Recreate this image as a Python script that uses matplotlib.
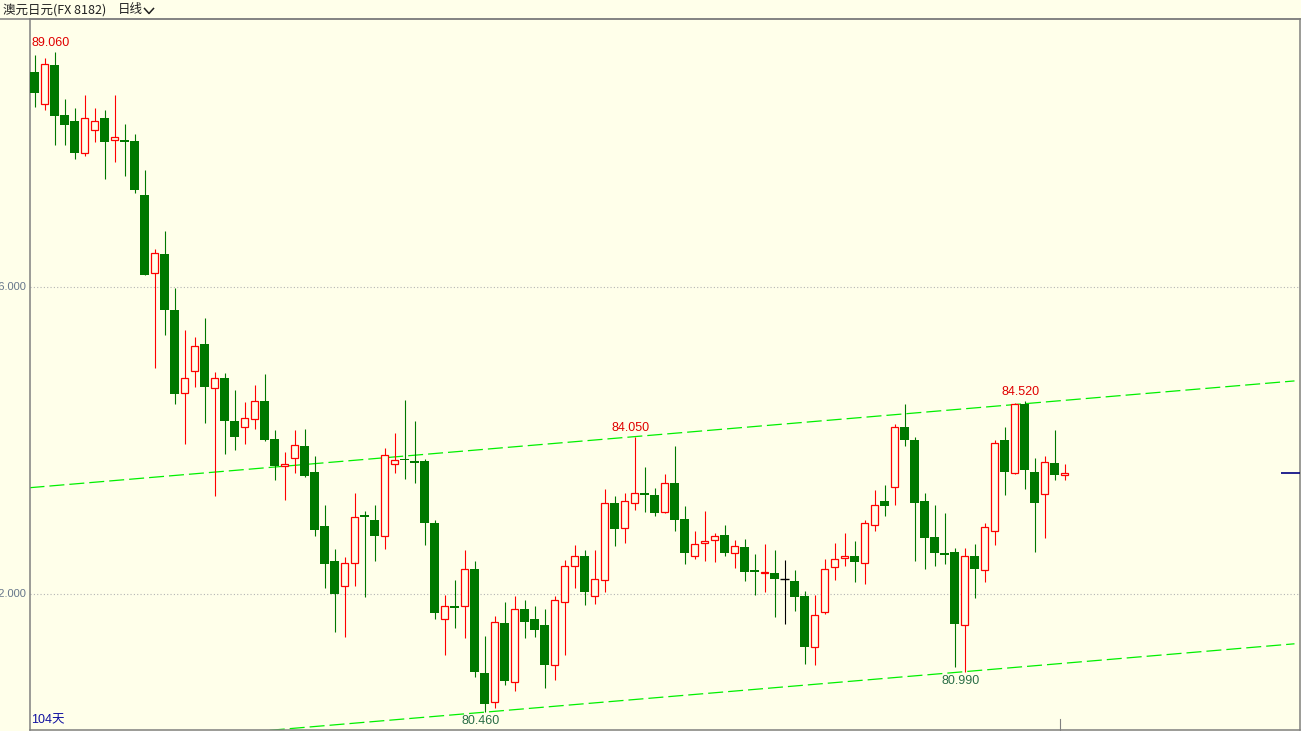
import numpy as np
import matplotlib
matplotlib.use('Agg')
import matplotlib.pyplot as plt
import matplotlib.transforms as mtransforms
from matplotlib.lines import Line2D

# daily AUD/JPY candles, oldest first
opens = [88.80, 88.39, 88.89, 88.24, 88.16, 87.74, 88.05, 88.20, 87.92, 87.92,
         87.90, 87.20, 86.18, 86.43, 85.70, 84.62, 84.90, 85.26, 84.69, 84.81,
         84.25, 84.17, 84.28, 84.51, 84.02, 83.67, 83.77, 83.93, 83.59, 82.89,
         82.43, 82.10, 82.40, 83.03, 82.96, 82.75, 83.70, 83.76, 83.73, 83.73,
         82.93, 81.67, 81.84, 81.84, 82.33, 80.97, 80.59, 81.62, 80.85, 81.80,
         81.67, 81.60, 81.08, 81.89, 82.36, 82.50, 81.97, 82.18, 83.19, 82.86,
         83.19, 83.32, 83.29, 83.07, 83.45, 82.98, 82.50, 82.66, 82.70, 82.77,
         82.53, 82.61, 82.31, 82.27, 82.27, 82.20, 82.17, 81.97, 81.31, 81.76,
         82.35, 82.47, 82.50, 82.41, 82.90, 83.21, 83.39, 84.18, 84.01, 83.21,
         82.74, 82.53, 82.55, 81.60, 82.50, 82.31, 82.82, 84.01, 83.57, 84.48,
         83.59, 83.30, 83.71, 83.55]
highs = [89.02, 88.98, 89.06, 88.45, 88.33, 88.50, 88.33, 88.31, 88.50, 88.12,
         87.99, 87.52, 86.49, 86.73, 85.99, 85.44, 85.35, 85.60, 84.89, 84.88,
         84.66, 84.50, 84.72, 84.87, 84.14, 83.85, 84.14, 84.15, 83.80, 83.16,
         82.59, 82.48, 83.32, 83.08, 83.16, 83.90, 84.10, 84.53, 84.25, 83.76,
         82.96, 81.99, 82.18, 82.57, 82.43, 81.45, 81.71, 81.89, 81.97, 81.92,
         81.84, 81.80, 81.97, 82.44, 82.64, 82.57, 82.57, 83.37, 83.28, 83.32,
         84.05, 83.65, 83.38, 83.56, 83.93, 83.15, 82.82, 83.08, 82.79, 82.90,
         82.70, 82.72, 82.52, 82.65, 82.57, 82.44, 82.31, 82.04, 81.99, 82.46,
         82.66, 82.79, 82.69, 82.96, 83.36, 83.42, 84.21, 84.48, 84.05, 83.32,
         83.16, 83.06, 82.60, 82.60, 82.65, 82.93, 84.00, 84.18, 84.49, 84.52,
         83.77, 83.80, 84.14, 83.69]
lows = [88.34, 88.31, 87.85, 87.85, 87.67, 87.71, 87.89, 87.41, 87.63, 87.45,
        87.23, 86.15, 84.95, 85.38, 84.47, 83.96, 84.70, 84.23, 83.28, 83.83,
        83.87, 83.96, 84.15, 83.99, 83.48, 83.23, 83.57, 83.53, 82.75, 82.08,
        81.50, 81.44, 82.11, 81.96, 82.43, 82.58, 83.58, 83.50, 83.44, 82.64,
        81.68, 81.21, 81.56, 81.43, 80.92, 80.46, 80.52, 80.81, 80.73, 81.43,
        81.44, 80.78, 80.88, 81.21, 82.08, 81.86, 81.87, 82.02, 82.62, 82.66,
        83.09, 83.07, 83.01, 83.05, 82.82, 82.39, 82.46, 82.43, 82.42, 82.49,
        82.34, 82.17, 81.99, 82.03, 81.70, 81.61, 81.78, 81.09, 81.08, 81.74,
        82.18, 82.37, 82.15, 82.13, 82.82, 83.01, 83.16, 83.93, 82.43, 82.33,
        82.37, 82.39, 81.05, 80.99, 81.95, 82.16, 82.64, 83.29, 83.56, 83.37,
        82.55, 82.73, 83.48, 83.49]
closes = [88.53, 88.91, 88.23, 88.11, 87.74, 88.20, 88.16, 87.89, 87.96, 87.89,
          87.27, 86.16, 86.44, 85.70, 84.61, 84.82, 85.23, 84.70, 84.82, 84.25,
          84.05, 84.29, 84.51, 84.00, 83.67, 83.70, 83.94, 83.54, 82.84, 82.39,
          82.00, 82.40, 83.00, 83.00, 82.75, 83.81, 83.75, 83.74, 83.71, 82.92,
          81.75, 81.84, 81.82, 82.33, 80.98, 80.57, 81.64, 80.86, 81.80, 81.64,
          81.53, 81.08, 81.92, 82.36, 82.50, 82.02, 82.19, 83.19, 82.85, 83.21,
          83.32, 83.29, 83.06, 83.45, 82.97, 82.53, 82.65, 82.69, 82.75, 82.53,
          82.63, 82.29, 82.28, 82.29, 82.19, 82.20, 81.96, 81.31, 81.72, 82.33,
          82.46, 82.50, 82.42, 82.92, 83.16, 83.15, 84.17, 84.00, 83.19, 82.73,
          82.54, 82.51, 81.61, 82.50, 82.33, 82.87, 83.97, 83.59, 84.48, 83.62,
          83.18, 83.72, 83.55, 83.57]

y_ticks = [82.0, 86.0]
mark_hi = [2, 60, 99]
mark_lo = [45, 93]
# channel: lower line through the two lows, upper line parallel through 84.050
chan_slope = 0.011
chan_lo = (45, 80.46)
chan_hi = (60, 84.05)
title = '澳元日元(FX 8182)'
period = '日线'
count_label = '104天'

bg = '#ffffea'
up_color = '#ff0000'
dn_color = '#007800'
W, H = 1301, 731

fig = plt.figure(figsize=(W / 100, H / 100), dpi=100, facecolor=bg)
ax = fig.add_axes([29.5 / W, 1 - 730.3 / H, 1270 / W, (730.3 - 18.5) / H])
ax.set_facecolor(bg)

o = np.array(opens)
h = np.array(highs)
l = np.array(lows)
c = np.array(closes)
x = np.arange(len(c))

up = c > o
dn = c < o
flat = c == o

wick_cols = np.where(up, up_color, np.where(dn, dn_color, 'black'))
ax.vlines(x, l, h, colors=wick_cols, linewidth=0.8, zorder=2)
ax.bar(x[up], c[up] - o[up], bottom=o[up], width=0.78, facecolor=bg,
       edgecolor=up_color, linewidth=0.9, zorder=3)
ax.bar(x[dn], o[dn] - c[dn], bottom=c[dn], width=0.9, color=dn_color,
       linewidth=0, zorder=3)
ax.hlines(c[flat], x[flat] - 0.45, x[flat] + 0.45, colors='black',
          linewidth=1.0, zorder=3)

# dotted price grid
for v in y_ticks:
    ax.axhline(v, color='#b4b4b4', linestyle=(0, (1, 2)), linewidth=0.8, zorder=1)
    ax.annotate(f'{v:.3f}', xy=(26, v), xycoords=('figure pixels', 'data'),
                ha='right', va='center', fontsize=8, color='#66768a',
                family='Liberation Sans', annotation_clip=False)

# channel lines
xs = np.array([-0.5, 126.0])
lo_line = chan_lo[1] + chan_slope * (xs - chan_lo[0])
hi_line = chan_hi[1] + chan_slope * (xs - chan_hi[0])
for yy in (lo_line, hi_line):
    ax.plot(xs, yy, color='#00f000', linewidth=0.9, linestyle=(0, (12, 4)), zorder=1.5)

# high / low markers
for i in mark_hi:
    ax.annotate(f'{highs[i]:.3f}', xy=(i, highs[i]), xytext=(-2.5, 6.5),
                textcoords='offset points', ha='center', va='center',
                fontsize=9, color='#e00000', family='Liberation Sans')
for i in mark_lo:
    ax.annotate(f'{lows[i]:.3f}', xy=(i, lows[i]), xytext=(-2.5, -6.5),
                textcoords='offset points', ha='center', va='center',
                fontsize=9, color='#2a6e46', family='Liberation Sans',
                annotation_clip=False)

# last price marker at right edge
ax.hlines(c[-1], 124.65, 126.5, colors='#000080', linewidth=1.2, zorder=4)
trans = mtransforms.blended_transform_factory(ax.transData, ax.transAxes)
ax.plot([102.55, 102.55], [0, 0.016], transform=trans, color='#808080',
        linewidth=0.8, clip_on=False)

ax.set_xlim(-0.5, 126.5)
ax.set_ylim(80.224, 89.498)
ax.set_xticks([])
ax.set_yticks([])
for s in ax.spines.values():
    s.set_color('#808080')
    s.set_linewidth(1.1)

# header bar
fig.add_artist(Line2D([0, 1], [1 - 18.5 / H] * 2, transform=fig.transFigure,
                      color='#808080', linewidth=1.1))
fig.text(3 / W, 1 - 10 / H, title, ha='left', va='center', fontsize=9,
         color='#202020', family=['Noto Sans CJK SC', 'DejaVu Sans'])
fig.text(118 / W, 1 - 10 / H, period, ha='left', va='center', fontsize=9,
         color='#202020', family=['Noto Sans CJK SC', 'DejaVu Sans'])
fig.add_artist(Line2D([144.5 / W, 149 / W, 153.5 / W],
                      [1 - 8.5 / H, 1 - 13.5 / H, 1 - 8.5 / H],
                      transform=fig.transFigure, color='#202020', linewidth=1.1))
fig.text(31 / W, 1 - 720 / H, count_label, ha='left', va='center', fontsize=9,
         color='#1010a0', family=['Liberation Sans', 'Noto Sans CJK SC'])

fig.savefig('out.png', dpi=100, facecolor=bg)
